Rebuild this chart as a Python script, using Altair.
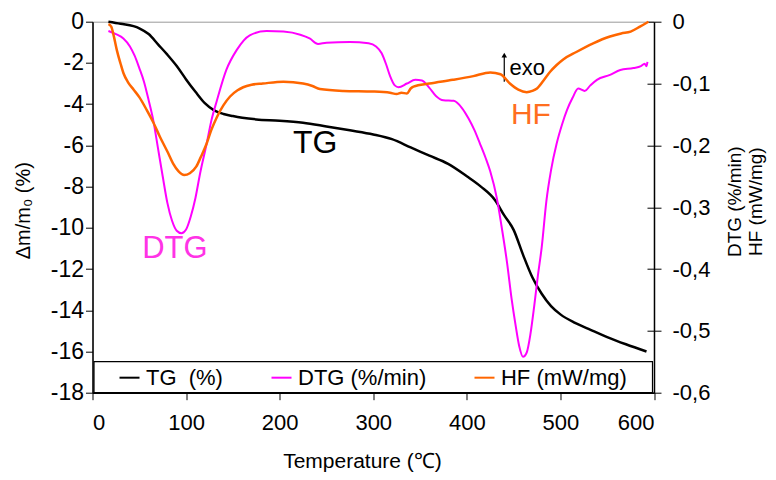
import altair as alt
import pandas as pd

FONT = "Liberation Sans"

# ---------------- data ----------------
tg_T = [17, 30, 50, 60, 70, 80, 90, 100, 110, 120, 130, 140, 150, 160, 175, 200,
        225, 250, 275, 300, 320, 340, 360, 380, 400, 415, 430, 440, 450, 460, 470,
        480, 490, 500, 515, 530, 550, 570, 592]
tg_v = [0, -0.1, -0.32, -0.6, -1.1, -1.6, -2.15, -2.8, -3.4, -3.95, -4.3, -4.48,
        -4.58, -4.66, -4.74, -4.8, -4.9, -5.08, -5.27, -5.47, -5.7, -6.1, -6.5,
        -6.9, -7.5, -8.0, -8.65, -9.4, -10.1, -11.3, -12.4, -13.2, -13.8, -14.2,
        -14.6, -14.9, -15.3, -15.65, -16.0]

dtg_T = [17, 25, 33, 40, 45, 50, 55, 60, 65, 70, 75, 80, 85, 90, 95, 100, 105, 110,
         115, 122, 127, 133, 143, 154, 168, 186, 204, 222, 232, 241, 250, 275, 295,
         303, 309, 314, 318, 323, 327, 336, 345, 352, 360, 367, 375, 386, 395, 402,
         408, 414, 420, 425, 432, 437, 443, 448, 452, 456, 460, 464, 468, 472, 476,
         480, 485, 490, 496, 502, 507, 513, 519, 526, 532, 539, 553, 564, 578, 586,
         590, 592, 593]
dtg_r = [-0.015, -0.02, -0.027, -0.04, -0.055, -0.075, -0.097, -0.127, -0.16, -0.205,
         -0.25, -0.293, -0.322, -0.338, -0.342, -0.336, -0.315, -0.285, -0.245, -0.197,
         -0.16, -0.127, -0.078, -0.046, -0.022, -0.015, -0.016, -0.021, -0.027, -0.036,
         -0.034, -0.033, -0.035, -0.04, -0.051, -0.07, -0.088, -0.103, -0.106, -0.1,
         -0.094, -0.095, -0.107, -0.12, -0.127, -0.128, -0.14, -0.157, -0.175, -0.197,
         -0.22, -0.242, -0.285, -0.33, -0.39, -0.45, -0.49, -0.525, -0.542, -0.535,
         -0.505, -0.46, -0.41, -0.365, -0.29, -0.24, -0.197, -0.165, -0.143, -0.123,
         -0.108, -0.112, -0.103, -0.094, -0.086, -0.078, -0.075, -0.072, -0.068,
         -0.072, -0.065]

hf_T = [17, 20, 23, 26, 30, 33, 38, 44, 50, 58, 65, 72, 80, 86, 92, 98, 104, 111,
        116, 122, 127, 133, 140, 147, 155, 161, 170, 182, 204, 225, 235, 243, 268,
        300, 318, 325, 330, 336, 340, 343, 360, 385, 407, 425, 436, 446, 455, 464,
        470, 475, 482, 489, 496, 503, 517, 535, 553, 565, 575, 585, 594]
hf_r = [-0.004, -0.008, -0.025, -0.046, -0.068, -0.083, -0.098, -0.11, -0.122, -0.143,
        -0.163, -0.186, -0.21, -0.229, -0.242, -0.248, -0.245, -0.234, -0.218, -0.197,
        -0.175, -0.154, -0.135, -0.121, -0.111, -0.106, -0.102, -0.1, -0.097, -0.1,
        -0.104, -0.109, -0.112, -0.113, -0.115, -0.117, -0.115, -0.116, -0.108, -0.105,
        -0.1, -0.094, -0.088, -0.082, -0.085, -0.1, -0.11, -0.114, -0.112, -0.108,
        -0.095, -0.081, -0.07, -0.061, -0.049, -0.035, -0.024, -0.019, -0.016, -0.008, 0]

series_names = ["TG\u00a0 (%)", "DTG (%/min)", "HF (mW/mg)"]
series_colors = ["#000000", "#FF00FF", "#FF6600"]

x_ticks = [0, 100, 200, 300, 400, 500, 600]
left_ticks = [-18, -16, -14, -12, -10, -8, -6, -4, -2, 0]
right_ticks = [-0.6, -0.5, -0.4, -0.3, -0.2, -0.1, 0]

# ---------------- tables ----------------
df_tg = pd.DataFrame({"T": tg_T, "v": tg_v, "series": series_names[0]})
df_dtg = pd.DataFrame({"T": dtg_T, "r": dtg_r, "series": series_names[1]})
df_hf = pd.DataFrame({"T": hf_T, "r": hf_r, "series": series_names[2]})

# ---------------- scales & axes ----------------
xs = alt.Scale(domain=[0, 600], nice=False, zero=False)
ys_l = alt.Scale(domain=[-18, 0], nice=False, zero=False)
ys_r = alt.Scale(domain=[-0.6, 0], nice=False, zero=False)
cs = alt.Scale(domain=series_names, range=series_colors)

x_axis = alt.Axis(values=x_ticks, title="Temperature (℃)", tickSize=7, labelPadding=13,
                  labelFontSize=22, titleFontSize=21, titleFontWeight="normal",
                  titleX=269.5, titleY=75, titleAlign="center",
                  titleBaseline="alphabetic", domainWidth=1.5)
left_axis = alt.Axis(orient="left", values=left_ticks, labelExpr="toString(datum.value)",
                     title="Δm/m₀ (%)", titleAngle=270, titleX=-63, titleY=188.5,
                     titleAlign="center", titleBaseline="alphabetic", titleFontSize=20,
                     titleFontWeight="normal", tickSize=7, labelPadding=2,
                     labelFontSize=23, domainWidth=1.5)
right_axis = alt.Axis(orient="right", values=right_ticks,
                      labelExpr="datum.value == 0 ? '0' : replace(toString(round(datum.value*10)/10), '.', ',')",
                      title=["DTG (%/min)", "HF (mW/mg)"], titleAngle=270, titleX=87,
                      titleY=179.5, titleAlign="center", titleBaseline="alphabetic",
                      titleLineHeight=21, titleFontSize=19, titleFontWeight="normal",
                      tickSize=7, labelPadding=11, labelFontSize=22, domainWidth=1.5)
inner_tick_axis = alt.Axis(orient="right", values=right_ticks, labels=False, domain=False,
                           tickSize=7, offset=-7, title=None)

leg = alt.Legend(orient="none", legendX=26, legendY=345, direction="horizontal",
                 title=None, symbolType="stroke", symbolSize=400, symbolStrokeWidth=2,
                 labelFontSize=22, labelFont=FONT, labelColor="black", columnPadding=44,
                 labelOffset=5.5, padding=0, labelLimit=300)

X = alt.X("T:Q", scale=xs, axis=x_axis)
YL = alt.Y("v:Q", scale=ys_l, axis=left_axis)
C = alt.Color("series:N", scale=cs, legend=leg)


def text_layer(label, T, v, size, color, align="center", baseline="middle"):
    d = pd.DataFrame({"T": [T], "v": [v], "label": [label]})
    return alt.Chart(d).mark_text(font=FONT, fontSize=size, color=color, align=align,
                                  baseline=baseline).encode(x=X, y=YL, text="label:N")


box = alt.Chart(pd.DataFrame({"a": [0]})).mark_rect(
    fill="transparent", stroke="black", strokeWidth=1.2
).encode(x=alt.value(1.5), x2=alt.value(560), y=alt.value(340), y2=alt.value(371))

tg_line = alt.Chart(df_tg).mark_line(strokeWidth=2.5, interpolate="monotone").encode(
    x=X, y=YL, color=C)

arrow_df = pd.DataFrame({"T": [440], "v": [-2.91], "v2": [-1.62]})
arrow_rule = alt.Chart(arrow_df).mark_rule(color="black", strokeWidth=1.2).encode(
    x=X, y=YL, y2="v2:Q")
arrow_head = alt.Chart(arrow_df).mark_point(shape="triangle-up", filled=True, color="black",
                                            size=30, opacity=1).encode(
    x=X, y=alt.Y("v2:Q", scale=ys_l, axis=left_axis))

left_group = alt.layer(
    box, tg_line,
    text_layer("TG", 238, -5.89, 32, "black"),
    text_layer("DTG", 88, -11.04, 31, "#FF33E6"),
    text_layer("HF", 468.5, -4.53, 30, "#FF6E1F"),
    text_layer("exo", 445.5, -2.25, 22, "black", align="left"),
    arrow_rule, arrow_head,
)

right_group = alt.Chart(df_dtg).mark_line(strokeWidth=2, interpolate="monotone").encode(
    x=X, y=alt.Y("r:Q", scale=ys_r, axis=right_axis), color=C)

tick_group = alt.Chart(df_hf).mark_line(strokeWidth=2.5, interpolate="monotone").encode(
    x=X, y=alt.Y("r:Q", scale=ys_r, axis=inner_tick_axis), color=C)

chart = alt.layer(left_group, right_group, tick_group).resolve_scale(
    y="independent"
).properties(
    width=561.5, height=371, autosize="none",
    padding={"left": 84.5, "top": 13.7, "right": 114, "bottom": 79},
    background="white",
).configure_view(
    stroke="#999999", strokeWidth=1
).configure_axis(
    grid=False, labelFont=FONT, titleFont=FONT, labelColor="black", titleColor="black",
    domainColor="black", tickColor="black", tickWidth=1
).configure_text(font=FONT)

chart.save("out.html", embed_options={"renderer": "svg", "actions": False})
